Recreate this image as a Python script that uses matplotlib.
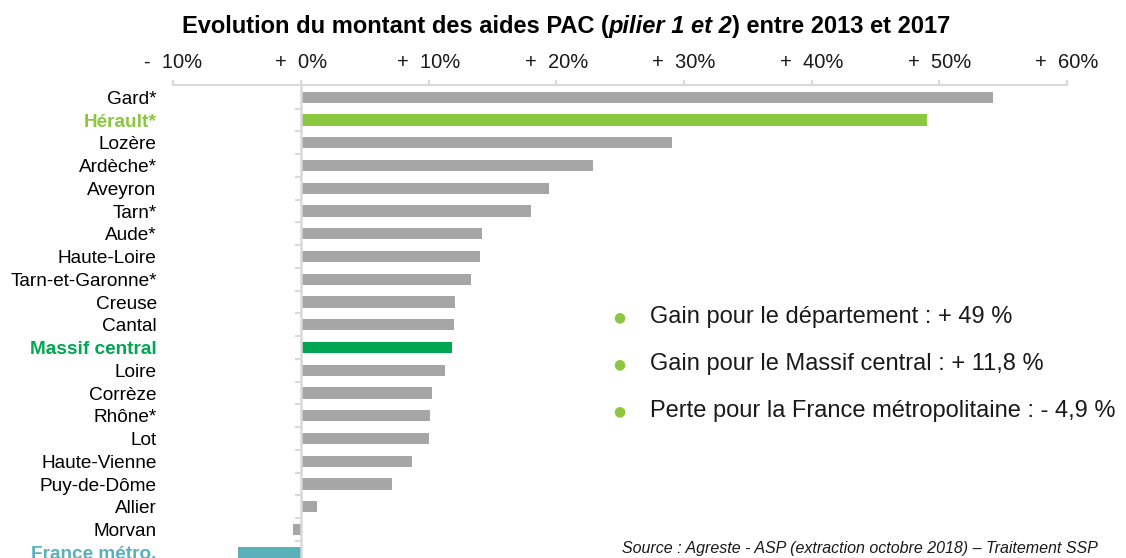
import matplotlib
matplotlib.use("Agg")
import matplotlib.pyplot as plt
import numpy as np

plt.rcParams['font.family'] = ['Liberation Sans', 'DejaVu Sans']

# Données : évolution des aides PAC 2013-2017 (%)
categories = ['Gard*', 'Hérault*', 'Lozère', 'Ardèche*', 'Aveyron', 'Tarn*', 'Aude*',
              'Haute-Loire', 'Tarn-et-Garonne*', 'Creuse', 'Cantal', 'Massif central',
              'Loire', 'Corrèze', 'Rhône*', 'Lot', 'Haute-Vienne', 'Puy-de-Dôme',
              'Allier', 'Morvan', 'France métro.']
values = [54.2, 49.0, 29.1, 22.9, 19.4, 18.0, 14.2, 14.0, 13.3, 12.1, 12.0, 11.8,
          11.3, 10.3, 10.1, 10.0, 8.7, 7.1, 1.25, -0.6, -4.9]
xticks = [-10, 0, 10, 20, 30, 40, 50, 60]
xticklabels = ['-  10%', '+  0%', '+  10%', '+  20%', '+  30%', '+  40%', '+  50%', '+  60%']

notes = ['Gain pour le département : + 49 %',
         'Gain pour le Massif central : + 11,8 %',
         'Perte pour la France métropolitaine : - 4,9 %']

# couleurs
gris = '#A6A6A6'
vert_clair = '#8DC63F'
vert = '#00A651'
bleu = '#5BB0BA'
axe = '#D9D9D9'

special = {'Hérault*': vert_clair, 'Massif central': vert, 'France métro.': bleu}
colors = [special.get(c, gris) for c in categories]

W, H = 1126, 558
fig = plt.figure(figsize=(W / 100, H / 100), dpi=100)
ax = fig.add_axes([173.3 / W, 0, (1067 - 173.3) / W, (H - 85) / H])

y = np.arange(len(categories))
ax.barh(y, values, height=0.5, color=colors, zorder=2)

ax.set_xlim(-10, 60)
ax.set_ylim(20.25, -0.54)

# axe du haut
ax.xaxis.tick_top()
ax.set_xticks(xticks)
ax.set_xticklabels(xticklabels, fontsize=14.5, color='#1a1a1a')
ax.tick_params(axis='x', direction='out', length=3.6, width=1.5, color=axe, pad=6)
for s in ['left', 'right', 'bottom']:
    ax.spines[s].set_visible(False)
ax.spines['top'].set_color(axe)
ax.spines['top'].set_linewidth(1.5)

# axe vertical à 0 + petites graduations entre catégories
ax.axvline(0, color=axe, lw=1.8, zorder=3)
ax.plot(np.zeros(len(categories) - 1), y[:-1] + 0.5, ls='none', marker=0,
        markersize=4, mew=1.5, color=axe, zorder=3, clip_on=False)

ax.set_yticks(y)
ax.set_yticklabels(categories, fontsize=13.7)
ax.tick_params(axis='y', length=0, pad=12)
for lab, c in zip(ax.get_yticklabels(), categories):
    if c in special:
        lab.set_color(special[c])
        lab.set_fontweight('bold')

# titre en trois morceaux (partie en italique)
r = fig.canvas.get_renderer()
parts = [('Evolution du montant des aides PAC (', 'normal'),
         ('pilier 1 et 2', 'italic'),
         (') entre 2013 et 2017', 'normal')]
texts = [fig.text(0, 1 - 27 / H, p, fontsize=17, fontweight='bold', style=st, va='center')
         for p, st in parts]
widths = [t.get_window_extent(r).width for t in texts]
x0 = 566 - sum(widths) / 2
for t, w in zip(texts, widths):
    t.set_x(x0 / W)
    x0 += w

# texte à droite
for i, n in enumerate(notes):
    yy = 1 - (317 + i * 47) / H
    fig.text(619 / W, yy, '\u25CF', color=vert_clair, fontsize=10, ha='center', va='center',
             family='DejaVu Sans')
    fig.text(650 / W, yy, n, fontsize=17, color='#1a1a1a', va='center')

fig.text(1098 / W, 1 - 548 / H,
         'Source : Agreste - ASP (extraction octobre 2018) \u2013 Traitement SSP',
         fontsize=11.5, style='italic', ha='right', va='center', color='#1a1a1a')

fig.savefig('out.png', dpi=100)
